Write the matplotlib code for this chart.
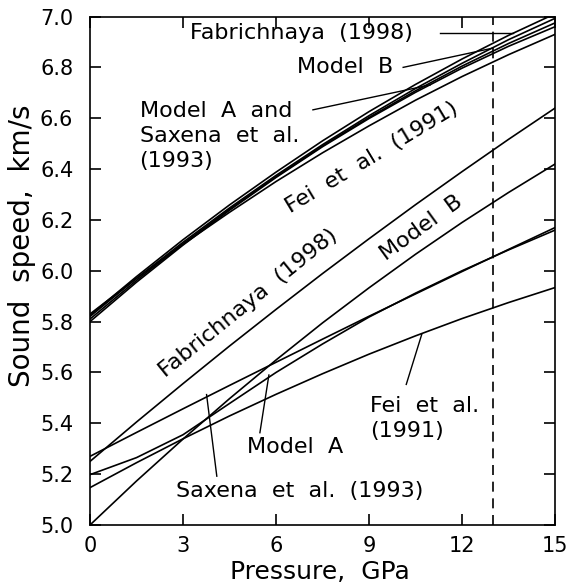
import numpy as np
import matplotlib
matplotlib.use("Agg")
import matplotlib.pyplot as plt

# pressure grid (GPa) shared by all curves
pressure = [0, 1.5, 3, 4.5, 6, 7.5, 9, 10.5, 12, 13.5, 15]

# upper bundle of curves (km/s)
fab_upper = [5.825, 5.977, 6.122, 6.259, 6.388, 6.511, 6.626, 6.733, 6.833, 6.926, 7.011]
model_b_upper = [5.820, 5.970, 6.112, 6.247, 6.375, 6.496, 6.610, 6.717, 6.816, 6.909, 6.993]
model_a_upper = [5.810, 5.962, 6.106, 6.242, 6.370, 6.491, 6.603, 6.708, 6.805, 6.894, 6.975]
saxena_upper = [5.800, 5.955, 6.101, 6.238, 6.367, 6.488, 6.599, 6.702, 6.797, 6.883, 6.960]
fei_upper = [5.830, 5.970, 6.104, 6.230, 6.351, 6.464, 6.570, 6.671, 6.764, 6.850, 6.930]

# lower bundle of curves (km/s)
fab_lower = [5.250, 5.405, 5.556, 5.704, 5.848, 5.989, 6.126, 6.260, 6.390, 6.517, 6.640]
model_b_lower = [5.000, 5.173, 5.338, 5.497, 5.649, 5.795, 5.933, 6.065, 6.190, 6.308, 6.420]
model_a_lower = [5.198, 5.265, 5.355, 5.478, 5.600, 5.712, 5.818, 5.912, 6.000, 6.082, 6.160]
saxena_lower = [5.270, 5.364, 5.457, 5.549, 5.640, 5.731, 5.821, 5.909, 5.997, 6.084, 6.170]
fei_lower = [5.147, 5.245, 5.339, 5.429, 5.514, 5.595, 5.672, 5.744, 5.812, 5.875, 5.934]

p_marker = 13.0
xticks = [0, 3, 6, 9, 12, 15]
yticks = [5.0, 5.2, 5.4, 5.6, 5.8, 6.0, 6.2, 6.4, 6.6, 6.8, 7.0]

plt.rcParams['font.family'] = ['DejaVu Sans']

fig = plt.figure(figsize=(5.67, 5.86), dpi=100)
ax = fig.add_axes([0.1587, 0.1041, 0.8203, 0.8677])

for v in [fab_upper, model_b_upper, model_a_upper, saxena_upper, fei_upper,
          fab_lower, model_b_lower, model_a_lower, saxena_lower, fei_lower]:
    ax.plot(pressure, v, color='black', linewidth=1.2)

ax.axvline(p_marker, color='black', linewidth=1.2, linestyle=(0, (6, 4)))

ax.set_xlim(0, 15)
ax.set_ylim(5.0, 7.0)
ax.set_xticks(xticks)
ax.set_yticks(yticks)
ax.set_yticklabels([f"{t:.1f}" for t in yticks])
ax.tick_params(direction='in', length=8, width=1.2, labelsize=15,
               top=True, right=True)
ax.tick_params(axis='x', pad=8)
ax.tick_params(axis='y', pad=12)
for s in ax.spines.values():
    s.set_linewidth(1.2)

# axis titles, placed by hand (baseline of x title near the bottom edge)
ax.set_xlabel("Pressure,  GPa", fontsize=18)
ax.xaxis.label.set_va('baseline')
ax.xaxis.set_label_coords(0.495, -0.106)
ax.set_ylabel("Sound  speed,  km/s", fontsize=20)
ax.yaxis.set_label_coords(-0.117, 0.55)

fs = 16
# labels for the upper bundle
ax.text(3.23, 6.935, "Fabrichnaya  (1998)", fontsize=fs, va='center', ha='left')
ax.plot([11.29, 13.65], [6.935, 6.935], color='black', linewidth=1.0)
ax.text(9.77, 6.80, "Model  B", fontsize=fs, va='center', ha='right')
ax.plot([10.1, 13.0], [6.80, 6.876], color='black', linewidth=1.0)
ax.text(1.6, 6.53, "Model  A  and\nSaxena  et  al.\n(1993)", fontsize=fs,
        va='center', ha='left', linespacing=1.3)
ax.plot([7.19, 10.97], [6.633, 6.731], color='black', linewidth=1.0)
ax.text(9.1, 6.444, "Fei  et  al.  (1991)", fontsize=fs, va='center', ha='center',
        rotation=31, rotation_mode='anchor')

# labels for the lower bundle
ax.text(5.1, 5.874, "Fabrichnaya  (1998)", fontsize=fs, va='center', ha='center',
        rotation=39, rotation_mode='anchor')
ax.text(10.7, 6.17, "Model  B", fontsize=fs, va='center', ha='center',
        rotation=36, rotation_mode='anchor')
ax.text(9.03, 5.42, "Fei  et  al.\n(1991)", fontsize=fs, va='center', ha='left',
        linespacing=1.3)
ax.plot([10.2, 10.7], [5.553, 5.75], color='black', linewidth=1.0)
ax.text(5.06, 5.305, "Model  A", fontsize=fs, va='center', ha='left')
ax.plot([5.48, 5.77], [5.363, 5.59], color='black', linewidth=1.0)
ax.text(2.77, 5.132, "Saxena  et  al.  (1993)", fontsize=fs, va='center', ha='left')
ax.plot([4.09, 3.76], [5.192, 5.513], color='black', linewidth=1.0)

fig.savefig("out.png", dpi=100)
